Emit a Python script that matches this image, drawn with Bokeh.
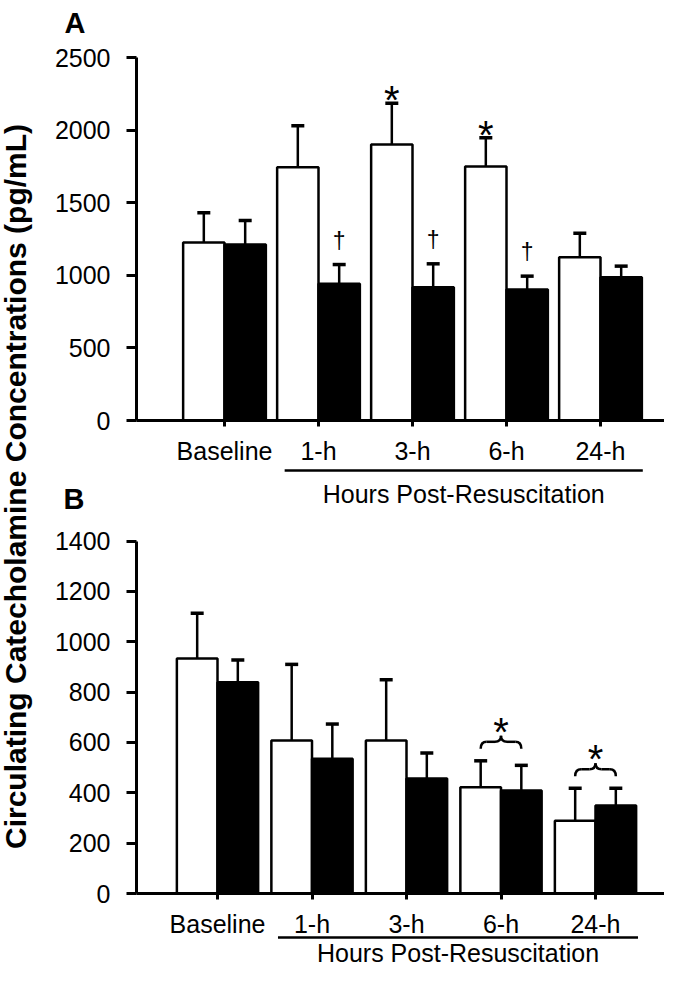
import math
from bokeh.plotting import figure
from bokeh.models import Range1d, LinearAxis, FixedTicker
from bokeh.core.properties import value
from bokeh.embed import file_html
from bokeh.resources import INLINE

# ---------------- data ----------------
categories = ["Baseline", "1-h", "3-h", "6-h", "24-h"]

a_white = [1227, 1746, 1902, 1751, 1126]
a_white_err = [205, 285, 285, 198, 165]
a_black = [1213, 942, 919, 903, 988]
a_black_err = [166, 133, 161, 92, 76]
a_star = [0, 0, 1, 1, 0]      # * over white bars
a_dagger = [0, 1, 1, 1, 0]    # dagger over black bars
a_yticks = [0, 500, 1000, 1500, 2000, 2500]

b_white = [933, 608, 608, 422, 289]
b_white_err = [180, 302, 241, 105, 129]
b_black = [839, 535, 457, 409, 350]
b_black_err = [88, 138, 101, 100, 68]
b_brace = [0, 0, 0, 1, 1]     # brace + * spanning both bars
b_yticks = [0, 200, 400, 600, 800, 1000, 1200, 1400]

post_label = "Hours Post-Resuscitation"
y_label = "Circulating Catecholamine Concentrations (pg/mL)"

# ---------------- geometry (picture pixels) ----------------
W, H = 664, 966
FR_L, FR_R, FR_T, FR_B = 0.0, float(W), 0.0, float(H)
FONT = "Liberation Sans"
FIX = 7  # text baseline correction (px)


class Geo:
    def __init__(self, cat0, step, zero, top_py, top_val):
        self.cat0, self.step, self.zero = cat0, step, zero
        self.k = (zero - top_py) / top_val

    def x(self, px):
        return (px - self.cat0) / self.step

    def y(self, py):
        return (self.zero - py) / self.k

    def dx(self, n):
        return n / self.step

    def dy(self, n):
        return n / self.k


GA = Geo(224.0, 94.0, 420.0, 57.3, 2500.0)
GB = Geo(217.0, 94.5, 893.0, 540.5, 1400.0)

p = figure(width=W, height=H, title=None, toolbar_location=None,
           output_backend="svg", min_border=0,
           x_axis_location=None, y_axis_location=None,
           x_range=Range1d(GA.x(FR_L), GA.x(FR_R)),
           y_range=Range1d(GA.y(FR_B), GA.y(FR_T)),
           outline_line_color=None, background_fill_color="white",
           border_fill_color="white")
p.extra_x_ranges = {"bx": Range1d(GB.x(FR_L), GB.x(FR_R))}
p.extra_y_ranges = {"by": Range1d(GB.y(FR_B), GB.y(FR_T))}
p.grid.visible = False


def txt(**kw):
    return dict(text_font=value(FONT), text_color="black", **kw)


def draw_panel(g, white, white_err, black, black_err, bar_w, yticks, ymax,
               kw, letter, letter_px, letter_py, line_gap, text_off):
    n = len(categories)
    xs = list(range(n))
    xw = [i - bar_w / 2 for i in xs]
    xb = [i + bar_w / 2 for i in xs]
    p.vbar(x=xw, top=white, bottom=0, width=bar_w, fill_color="white",
           line_color="black", line_width=2.5, **kw)
    p.vbar(x=xb, top=black, bottom=0, width=bar_w, fill_color="black",
           line_color="black", line_width=2.5, **kw)
    cw = g.dx(6.5)
    for xc, v, e in ((xw, white, white_err), (xb, black, black_err)):
        tops = [a + b for a, b in zip(v, e)]
        p.segment(x0=xc, y0=v, x1=xc, y1=tops, line_color="black",
                  line_width=2.5, **kw)
        p.segment(x0=[x - cw for x in xc], y0=tops, x1=[x + cw for x in xc],
                  y1=tops, line_color="black", line_width=3.5, **kw)

    common = dict(axis_line_width=3, axis_line_color="black",
                  major_tick_line_width=3, major_tick_line_color="black",
                  major_tick_in=0, minor_tick_in=0, minor_tick_out=0,
                  major_label_text_font=FONT,
                  major_label_text_font_size="25px",
                  major_label_text_color="black")
    yax = LinearAxis(fixed_location=g.x(136), bounds=(0, ymax),
                     ticker=FixedTicker(ticks=yticks), major_tick_out=10,
                     major_label_standoff=16, **common, **kw)
    p.add_layout(yax, "left")
    xax = LinearAxis(fixed_location=0, bounds=(g.x(136), g.x(FR_R)),
                     ticker=FixedTicker(ticks=xs),
                     major_label_overrides={i: c for i, c in enumerate(categories)},
                     major_tick_out=6, major_label_standoff=10, **common, **kw)
    p.add_layout(xax, "below")

    # underline + "Hours Post-Resuscitation"
    x0, x1 = 1 - 0.36, (n - 1) + 0.45
    yl = -g.dy(line_gap)
    p.segment(x0=[x0], y0=[yl], x1=[x1], y1=[yl], line_color="black",
              line_width=2.5, **kw)
    p.text(x=[(x0 + x1) / 2], y=[0], text=[post_label], y_offset=text_off - FIX,
           text_align="center", text_baseline="alphabetic",
           **txt(text_font_size="25px"), **kw)
    # panel letter
    p.text(x=[g.x(letter_px)], y=[g.y(letter_py)], text=[letter],
           y_offset=-FIX, text_align="left", text_baseline="alphabetic",
           **txt(text_font_size="29px", text_font_style="bold"), **kw)
    return xw, xb


# ---------------- panel A ----------------
xwA, xbA = draw_panel(GA, a_white, a_white_err, a_black, a_black_err, 0.44,
                      a_yticks, 2500, {}, "A", 64, 29, 50, 80)
sx = [xwA[i] for i in range(5) if a_star[i]]
sy = [a_white[i] + a_white_err[i] for i in range(5) if a_star[i]]
p.text(x=sx, y=sy, text=["*"] * len(sx), y_offset=-3, text_align="center",
       text_baseline="alphabetic", **txt(text_font_size="40px"))
dx_ = [xbA[i] for i in range(5) if a_dagger[i]]
dy_ = [a_black[i] + a_black_err[i] for i in range(5) if a_dagger[i]]
p.text(x=dx_, y=dy_, text=["\u2020"] * len(dx_), y_offset=-24,
       text_align="center", text_baseline="alphabetic",
       **txt(text_font_size="23px"))

# ---------------- panel B ----------------
kwB = dict(x_range_name="bx", y_range_name="by")
xwB, xbB = draw_panel(GB, b_white, b_white_err, b_black, b_black_err, 0.43,
                      b_yticks, 1400, kwB, "B", 63, 505, 44, 66)
qx0, qy0, qx1, qy1, qcx, qcy = [], [], [], [], [], []
lx0, ly, lx1 = [], [], []
stx, sty = [], []
d = GB.dx(6)
for i in range(5):
    if not b_brace[i]:
        continue
    top = max(b_white[i] + b_white_err[i], b_black[i] + b_black_err[i])
    yb = top + GB.dy(12)
    ym = top + GB.dy(19)
    yt = top + GB.dy(25)
    xl, xr, xc = xwB[i], xbB[i], float(i)
    for (a, b, c, e, f, h) in ((xl, yb, xl + d, ym, xl, ym),
                               (xc - d, ym, xc, yt, xc, ym),
                               (xc, yt, xc + d, ym, xc, ym),
                               (xr - d, ym, xr, yb, xr, ym)):
        qx0.append(a); qy0.append(b); qx1.append(c); qy1.append(e)
        qcx.append(f); qcy.append(h)
    lx0 += [xl + d, xc + d]; lx1 += [xc - d, xr - d]; ly += [ym, ym]
    stx.append(xc); sty.append(top)
p.quadratic(x0=qx0, y0=qy0, x1=qx1, y1=qy1, cx=qcx, cy=qcy,
            line_color="black", line_width=2.5, **kwB)
p.segment(x0=lx0, y0=ly, x1=lx1, y1=ly, line_color="black", line_width=2.5,
          **kwB)
p.text(x=stx, y=sty, text=["*"] * len(stx), y_offset=-29, text_align="center",
       text_baseline="alphabetic", **txt(text_font_size="40px"), **kwB)

# ---------------- shared y label ----------------
p.text(x=[GA.x(15)], y=[GA.y(486)], text=[y_label], angle=math.pi / 2,
       text_align="center", text_baseline="alphabetic",
       **txt(text_font_size="30px", text_font_style="bold"))

open("out.html", "w").write(file_html(p, INLINE))
